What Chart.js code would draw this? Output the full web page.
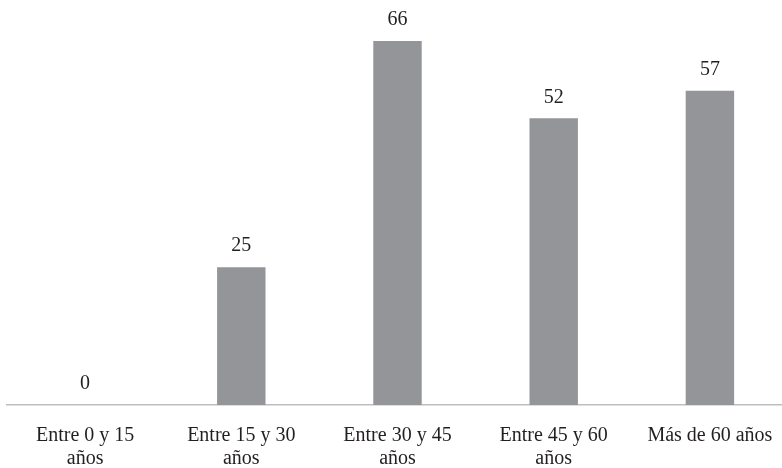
<!DOCTYPE html>
<html>
<head>
<meta charset="utf-8">
<script src="https://cdn.jsdelivr.net/npm/chart.js@4/dist/chart.umd.min.js"></script>
<style>
  html, body { margin: 0; padding: 0; background: #fff; overflow: hidden; }
  #wrap { width: 782px; height: 468px; overflow: hidden; }
  #wrap > div { width: 795px; height: 468px; }
</style>
</head>
<body>
<div id="wrap"><div><canvas id="BarChart" width="795" height="468"></canvas></div></div>
<script>
const categories = [
  ["Entre 0 y 15", "años"],
  ["Entre 15 y 30", "años"],
  ["Entre 30 y 45", "años"],
  ["Entre 45 y 60", "años"],
  "Más de 60 años",
];
const values = [0, 25, 66, 52, 57];

const barColor = "#939598";
const textColor = "#231f20";
const fontFamily = "'Liberation Serif', 'DejaVu Serif', serif";

//Draw the number above each bar
const valueLabels = {
  id: "valueLabels",
  afterDatasetsDraw(chart) {
    const ctx = chart.ctx;
    const meta = chart.getDatasetMeta(0);
    ctx.save();
    ctx.font = `20px ${fontFamily}`;
    ctx.fillStyle = textColor;
    ctx.textAlign = "center";
    ctx.textBaseline = "middle";
    meta.data.forEach((bar, i) => {
      ctx.fillText(String(values[i]), bar.x, bar.y - 21);
    });
    ctx.restore();
  },
};

const ctxbar = document.getElementById("BarChart").getContext("2d");
const myBarChart = new Chart(ctxbar, {
  type: "bar",
  data: {
    labels: categories,
    datasets: [
      {
        data: values,
        backgroundColor: barColor,
        barPercentage: 0.62,
        categoryPercentage: 0.5,
      },
    ],
  },
  options: {
    responsive: false,
    animation: false,
    layout: {
      padding: { left: 7, right: 7, top: 19, bottom: 0 },
    },
    plugins: {
      legend: { display: false },
      tooltip: { enabled: false },
    },
    scales: {
      x: {
        grid: { display: false, drawTicks: false },
        border: { display: true, color: "#bcbec0", width: 1.5 },
        ticks: {
          color: textColor,
          font: { family: fontFamily, size: 20, lineHeight: 1.15 },
          padding: 19,
          maxRotation: 0,
          autoSkip: false,
        },
        afterFit(scale) {
          scale.height = 63;
        },
      },
      y: {
        display: false,
        min: 0,
        max: 70,
      },
    },
  },
  plugins: [valueLabels],
});
</script>
</body>
</html>
